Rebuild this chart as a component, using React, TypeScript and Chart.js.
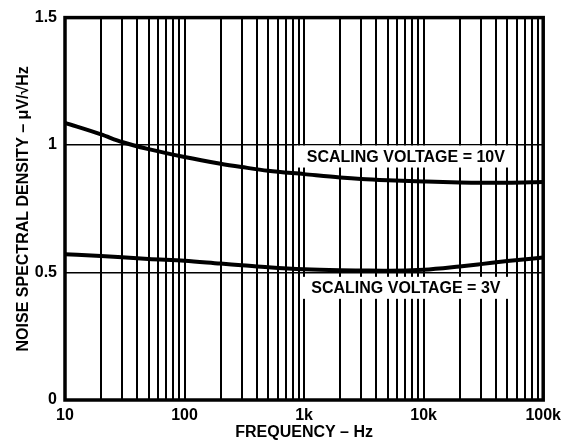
import React, { useEffect, useRef } from "react";
import { Chart, registerables } from "chart.js";

Chart.register(...registerables);

const FREQUENCIES = [10, 20, 30, 50, 100, 200, 300, 500, 1000, 2000, 3000, 5000, 10000, 20000, 30000, 50000, 100000];
const DENSITY_10V = [1.087, 1.042, 1.012, 0.984, 0.953, 0.927, 0.914, 0.899, 0.886, 0.873, 0.867, 0.862, 0.857, 0.853, 0.852, 0.852, 0.855];
const DENSITY_3V = [0.572, 0.565, 0.56, 0.553, 0.546, 0.535, 0.529, 0.521, 0.513, 0.509, 0.508, 0.507, 0.511, 0.524, 0.533, 0.545, 0.559];

const X_DECADES = [10, 100, 1000, 10000, 100000];
const X_DECADE_LABELS = ["10", "100", "1k", "10k", "100k"];
const X_MULTIPLIERS = [1, 2, 3, 4, 5, 6, 7, 8, 9];
const Y_TICKS = [0, 0.5, 1, 1.5];
const Y_TICK_LABELS = ["0", "0.5", "1", "1.5"];

const LABEL_TEXTS = ["SCALING VOLTAGE = 10V", "SCALING VOLTAGE = 3V"];
const LABEL_FREQ = [7100, 7100];
const LABEL_VALUE = [0.955, 0.44];

const FONT = "'Liberation Sans', Arial, Helvetica, sans-serif";

export default function App() {
  const ref = useRef<HTMLCanvasElement>(null);

  useEffect(() => {
    document.body.style.margin = "0";
    const canvas = ref.current;
    if (!canvas) return;

    const xGridValues: number[] = [];
    X_DECADES.forEach((d, i) => {
      if (i === X_DECADES.length - 1) {
        xGridValues.push(d);
      } else {
        X_MULTIPLIERS.forEach((m) => xGridValues.push(d * m));
      }
    });

    const framePlugin = {
      id: "frame",
      afterDraw(chart: any) {
        const { ctx, chartArea: a } = chart;
        ctx.save();
        ctx.strokeStyle = "#000";
        ctx.lineWidth = 3.5;
        ctx.strokeRect(a.left, a.top, a.right - a.left, a.bottom - a.top);
        ctx.restore();
      },
    };

    const labelPlugin = {
      id: "curveLabels",
      afterDatasetsDraw(chart: any) {
        const { ctx } = chart;
        const xs = chart.scales.x;
        const ys = chart.scales.y;
        ctx.save();
        ctx.font = `bold 16px ${FONT}`;
        ctx.textAlign = "center";
        ctx.textBaseline = "middle";
        LABEL_TEXTS.forEach((t, i) => {
          const cx = xs.getPixelForValue(LABEL_FREQ[i]);
          const cy = ys.getPixelForValue(LABEL_VALUE[i]);
          const w = ctx.measureText(t).width + 20;
          const h = 22;
          ctx.fillStyle = "#fff";
          ctx.fillRect(cx - w / 2, cy - h / 2, w, h);
          ctx.fillStyle = "#000";
          ctx.fillText(t, cx, cy + 1);
        });
        ctx.restore();
      },
    };

    const chart = new Chart(canvas, {
      type: "line",
      data: {
        datasets: [
          {
            label: "10V",
            data: FREQUENCIES.map((f, i) => ({ x: f, y: DENSITY_10V[i] })),
            borderColor: "#000",
            borderWidth: 4,
            pointRadius: 0,
            cubicInterpolationMode: "monotone",
            fill: false,
          },
          {
            label: "3V",
            data: FREQUENCIES.map((f, i) => ({ x: f, y: DENSITY_3V[i] })),
            borderColor: "#000",
            borderWidth: 4,
            pointRadius: 0,
            cubicInterpolationMode: "monotone",
            fill: false,
          },
        ],
      },
      options: {
        animation: false,
        responsive: true,
        maintainAspectRatio: false,
        devicePixelRatio: 1,
        layout: { padding: { top: 17, right: 21, bottom: 0, left: 0 } },
        plugins: {
          legend: { display: false },
          tooltip: { enabled: false },
        },
        scales: {
          x: {
            type: "logarithmic",
            min: 10,
            max: 100000,
            afterBuildTicks(scale: any) {
              scale.ticks = xGridValues.map((v) => ({ value: v }));
            },
            afterFit(scale: any) {
              scale.height = 40;
            },
            border: { display: false },
            grid: {
              color: "#000",
              lineWidth: 2,
              drawTicks: false,
            },
            ticks: {
              autoSkip: false,
              maxRotation: 0,
              padding: 6,
              color: "#000",
              font: { family: FONT, size: 16, weight: "bold" },
              callback(value: any) {
                const idx = X_DECADES.indexOf(Number(value));
                return idx >= 0 ? X_DECADE_LABELS[idx] : "";
              },
            },
            title: {
              display: true,
              text: "FREQUENCY – Hz",
              color: "#000",
              font: { family: FONT, size: 16, weight: "bold" },
              padding: { top: 0, bottom: -2 },
            },
          },
          y: {
            min: 0,
            max: 1.5,
            afterBuildTicks(scale: any) {
              scale.ticks = Y_TICKS.map((v) => ({ value: v }));
            },
            afterFit(scale: any) {
              scale.width = 65;
            },
            border: { display: false },
            grid: {
              color: "#000",
              lineWidth: 1.5,
              drawTicks: false,
            },
            ticks: {
              padding: 8,
              color: "#000",
              font: { family: FONT, size: 16, weight: "bold" },
              callback(value: any) {
                const idx = Y_TICKS.indexOf(Number(value));
                return idx >= 0 ? Y_TICK_LABELS[idx] : "";
              },
            },
            title: {
              display: true,
              text: "NOISE SPECTRAL DENSITY – μV/√Hz",
              color: "#000",
              font: { family: FONT, size: 16, weight: "bold" },
              padding: { top: 14, bottom: 0 },
            },
          },
        },
      },
      plugins: [labelPlugin, framePlugin],
    } as any);

    return () => chart.destroy();
  }, []);

  return (
    <div style={{ position: "absolute", left: 0, top: 0, width: 567, height: 440, background: "#fff" }}>
      <canvas ref={ref} />
    </div>
  );
}
